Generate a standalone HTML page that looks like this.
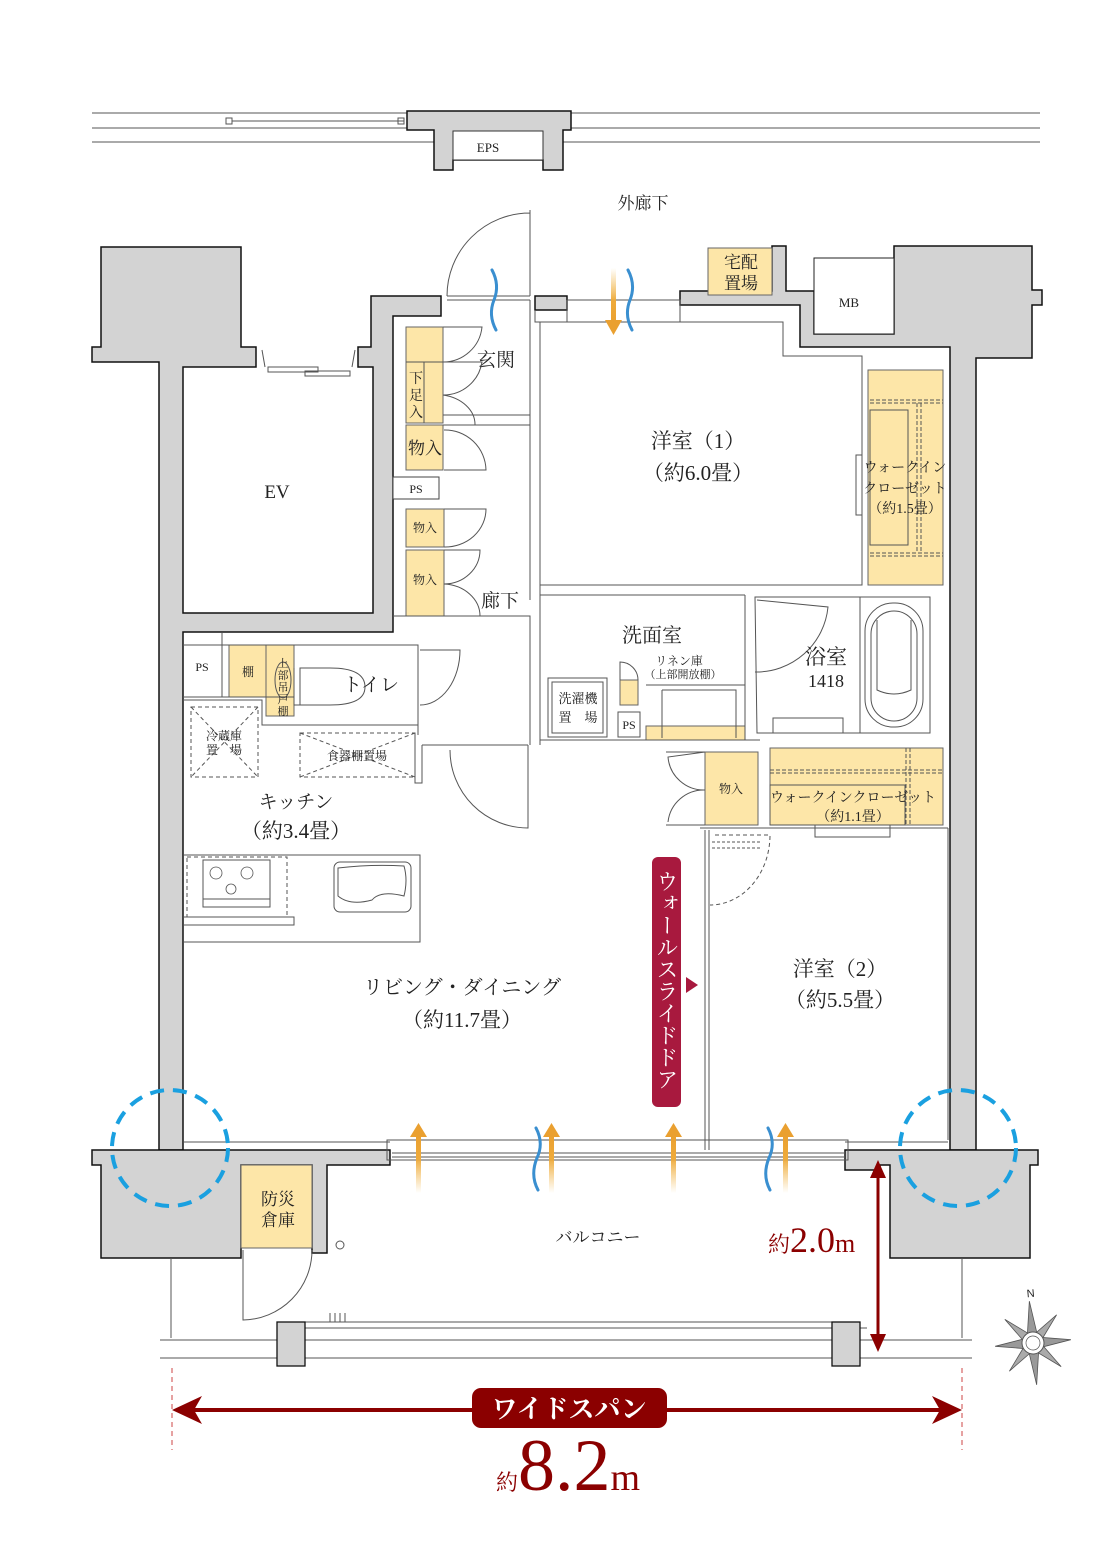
<!DOCTYPE html>
<html><head><meta charset="utf-8"><style>
html,body{margin:0;padding:0;background:#fff;}
svg{display:block;}
text{font-family:"Liberation Serif","Noto Serif CJK SC","Noto Sans CJK JP",serif;fill:#222;}
</style></head><body>
<svg width="1120" height="1560" viewBox="0 0 1120 1560" xmlns="http://www.w3.org/2000/svg">
<defs>
<linearGradient id="ga" x1="0" y1="1" x2="0" y2="0"><stop offset="0" stop-color="#f2b84a" stop-opacity="0"/><stop offset="0.6" stop-color="#eeaa3a"/><stop offset="1" stop-color="#eaa030"/></linearGradient>
<linearGradient id="gd" x1="0" y1="0" x2="0" y2="1"><stop offset="0" stop-color="#f2b84a" stop-opacity="0"/><stop offset="0.6" stop-color="#eeaa3a"/><stop offset="1" stop-color="#eaa030"/></linearGradient>
</defs>
<g stroke="#555" stroke-width="1" fill="none">
<line x1="92" y1="113" x2="407" y2="113"/><line x1="571" y1="113" x2="1040" y2="113"/>
<line x1="92" y1="128" x2="407" y2="128"/><line x1="571" y1="128" x2="1040" y2="128"/>
<line x1="92" y1="142" x2="434" y2="142"/><line x1="563" y1="142" x2="1040" y2="142"/>
<line x1="232" y1="121" x2="404" y2="121"/>
<rect x="226" y="118" width="6" height="6"/><rect x="398" y="118" width="6" height="6"/>
</g>
<path d="M407 111 H571 V130 H563 V170 H543 V160 H453 V170 H434 V130 H407 Z" fill="#d3d3d3" stroke="#111" stroke-width="1.5"/>
<rect x="453" y="131" width="90" height="29" fill="#fff" stroke="#333"/>
<text x="488" y="152" font-size="13" text-anchor="middle">EPS</text>
<text x="643" y="209" font-size="17" text-anchor="middle">外廊下</text>

<g fill="#d3d3d3" stroke="#111" stroke-width="1.5">
<path d="M101 247 H241 V347 H256 V367 H183 V613 H373 V367 H358 V347 H371 V296 H441 V316 H393 V632 H183 V1150 H159 V362 H92 V347 H101 Z"/>
<path d="M535 296 H567 V310 H535 Z"/>
<path d="M680 291 H772 V246 H786 V291 H800 V291 H814 V334 H894 V246 H1032 V290 H1042 V305 H1032 V358 H976 V1150 H950 V347 H800 V305 H680 Z"/>
<path d="M92 1150 H390 V1165 H327 V1253 H312 V1165 H241 V1258 H101 V1165 H92 Z"/>
<path d="M845 1150 H1038 V1165 H1030 V1258 H890 V1165 H880 V1170 H845 Z"/>
</g>
<rect x="814" y="258" width="80" height="76" fill="#fff" stroke="#222"/>
<text x="849" y="307" font-size="13" text-anchor="middle">MB</text>
<text x="277" y="498" font-size="19" text-anchor="middle">EV</text>
<g stroke="#555" fill="none" stroke-width="1"><path d="M265 367 L262 350 M352 367 L355 350"/><rect x="268" y="367" width="50" height="5"/><rect x="305" y="371" width="45" height="5"/></g>

<g fill="#fde6a8" stroke="#666" stroke-width="1">
<rect x="708" y="248" width="64" height="47"/>
<rect x="406" y="327" width="37" height="96"/>
<rect x="406" y="425" width="37" height="45"/>
<rect x="406" y="509" width="38" height="38"/>
<rect x="406" y="550" width="38" height="66"/>
<rect x="868" y="370" width="75" height="215"/>
<rect x="229" y="645" width="37" height="52"/>
<rect x="266" y="645" width="28" height="71"/>
<rect x="620" y="680" width="18" height="25"/>
<rect x="646" y="726" width="99" height="14"/>
<rect x="705" y="752" width="53" height="73"/>
<rect x="770" y="748" width="173" height="77"/>
<rect x="241" y="1165" width="71" height="83"/>
</g>
<g stroke="#555" fill="none" stroke-width="1">
<line x1="406" y1="362" x2="443" y2="362"/><line x1="424" y1="362" x2="424" y2="423"/>
<rect x="870" y="410" width="38" height="135"/>
<path d="M870 400 H943 M870 403 H943 M870 553 H943 M870 556 H943 M917 403 V553 M921 403 V553" stroke-dasharray="4 2"/>
<rect x="770" y="785" width="135" height="40"/>
<path d="M770 770 H943 M770 773 H943 M906 748 V825 M910 748 V825" stroke-dasharray="4 2"/>
</g>
<text x="741" y="268" font-size="17" text-anchor="middle">宅配</text>
<text x="741" y="289" font-size="17" text-anchor="middle">置場</text>
<text font-size="14"><tspan x="409" y="383">下</tspan><tspan x="409" y="400">足</tspan><tspan x="409" y="417">入</tspan></text>
<text x="425" y="454" font-size="17" text-anchor="middle">物入</text>
<rect x="393" y="477" width="46" height="22" fill="#fff" stroke="#444"/>
<text x="416" y="493" font-size="12" text-anchor="middle">PS</text>
<text x="425" y="532" font-size="12" text-anchor="middle">物入</text>
<text x="425" y="584" font-size="12" text-anchor="middle">物入</text>
<text x="496" y="366" font-size="19" text-anchor="middle">玄関</text>
<text x="500" y="607" font-size="19" text-anchor="middle">廊下</text>

<g stroke="#555" fill="none" stroke-width="1">
<path d="M447 296 H530 M447 300 H530"/>
<path d="M530 210 V296 M447 296 A83 83 0 0 1 530 213"/>
<path d="M530 300 V600 M540 322 V600 M535 310 V322 H783 V356 H862 V585 H540"/>
<path d="M567 300 H680 V322 M567 300 V322"/>
<path d="M443 415 H530 M443 425 H530"/>
<path d="M443 327 H482 A39 39 0 0 1 443 362 M443 362 H482 A39 39 0 0 1 443 395 M443 395 A39 30 0 0 1 475 425 M444 430 A41 41 0 0 1 486 470 H444 M444 509 H486 A41 38 0 0 1 444 547 M444 550 H480 A36 34 0 0 1 444 584 M444 584 A38 32 0 0 1 480 616 H444"/>
<path d="M393 616 H530 V745 M540 595 H745 M540 600 V745 M540 740 H760 M745 595 V740 M755 597 H930 V733 H757 Z"/>
<path d="M862 455 H856 V515 H862" />
<path d="M548 678 h59 v59 h-59 z M552 682 h51 v51 h-51 z"/>
<rect x="618" y="712" width="22" height="25" fill="#fff"/>
<path d="M620 680 V662 A18 18 0 0 1 638 680"/>
<path d="M646 685 H745 M662 690 H736 V738 M662 690 V738"/>
<path d="M757 600 L828 607 A72 72 0 0 1 755 672"/>
<path d="M860 597 V733"/>
<rect x="865" y="603" width="58" height="124" rx="28"/>
<rect x="871" y="611" width="46" height="110" rx="23"/>
<path d="M877 620 V690 Q894 698 911 690 V620"/>
<rect x="773" y="718" width="70" height="15"/>
<path d="M183 697 H294 M222 633 V697 M294 645 H418 V735 M183 645 H418" />
<path d="M300 668 H330 Q365 668 365 687 Q365 705 330 705 H300 Z M294 668 V705 H300"/>
<ellipse cx="283" cy="680" rx="8" ry="18"/>
<path d="M420 650 H460 A40 55 0 0 1 420 705"/>
<path d="M183 700 H262 V725 H418 M415 733 V783 H422 V745"/>
<path d="M422 745 H528 M528 745 V828 A78 78 0 0 1 450 750"/>
<g stroke-dasharray="4 3"><rect x="191" y="707" width="67" height="70"/><path d="M191 707 L258 777 M258 707 L191 777"/>
<rect x="300" y="733" width="115" height="44"/><path d="M300 733 L415 777 M415 733 L300 777"/></g>
<path d="M184 855 H420 V942 H184"/>
<rect x="187" y="857" width="100" height="60" stroke-dasharray="4 3"/>
<rect x="203" y="860" width="67" height="47"/><path d="M203 899 H270"/>
<path d="M184 917 H294 V925 H184"/>
<rect x="334" y="862" width="77" height="50" rx="6"/>
<path d="M338 868 Q372 864 404 866 Q408 880 404 896 Q380 890 372 900 Q350 906 338 896 Z"/>
<g stroke-width="0.8"><circle cx="216" cy="873" r="6"/><circle cx="247" cy="873" r="6"/><circle cx="231" cy="889" r="5"/></g>
<path d="M705 830 V1150 M709 830 V1150 M700 828 H948 M666 752 H705 M666 825 H705"/>
<path d="M705 752 L668 757 A36 36 0 0 0 705 790 A36 36 0 0 0 668 822"/>
<path d="M715 835 H770 A60 70 0 0 1 710 905" stroke-dasharray="4 3"/>
<path d="M712 842 H760 M712 848 H760" stroke-dasharray="3 2"/>
<path d="M815 825 V837 H890 V825"/>
<path d="M948 828 V1140 M184 1142 H390 M845 1142 H948"/>
<path d="M387 1140 H848 V1160 H387 Z M392 1153 H845 M392 1157 H845"/>
<path d="M243 1250 V1320 A70 70 0 0 0 312 1250"/>
<path d="M305 1328 H867 M305 1322 H832 M160 1340 H972 M160 1358 H972"/>
<path d="M171 1258 V1338 M962 1258 V1338"/>
<circle cx="340" cy="1245" r="4"/>
<path d="M330 1313 V1322 M335 1313 V1322 M340 1313 V1322 M345 1313 V1322"/>
</g>
<g fill="#d3d3d3" stroke="#111" stroke-width="1.3"><rect x="277" y="1322" width="28" height="44"/><rect x="832" y="1322" width="28" height="44"/></g>

<text x="202" y="671" font-size="12" text-anchor="middle">PS</text>
<text x="248" y="676" font-size="12" text-anchor="middle">棚</text>
<text font-size="11" text-anchor="middle"><tspan x="283" y="667">上</tspan><tspan x="283" y="679">部</tspan><tspan x="283" y="691">吊</tspan><tspan x="283" y="703">戸</tspan><tspan x="283" y="715">棚</tspan></text>
<text x="371" y="691" font-size="19" text-anchor="middle">トイレ</text>
<text x="224" y="740" font-size="12" text-anchor="middle">冷蔵庫</text>
<text x="224" y="754" font-size="12" text-anchor="middle">置　場</text>
<text x="357" y="760" font-size="12" text-anchor="middle">食器棚置場</text>
<text x="296" y="808" font-size="19" text-anchor="middle">キッチン</text>
<text x="296" y="838" font-size="21" text-anchor="middle">（約3.4畳）</text>
<text x="462" y="994" font-size="20" text-anchor="middle">リビング・ダイニング</text>
<text x="462" y="1027" font-size="21" text-anchor="middle">（約11.7畳）</text>
<text x="698" y="448" font-size="21" text-anchor="middle">洋室（1）</text>
<text x="698" y="480" font-size="21" text-anchor="middle">（約6.0畳）</text>
<text x="905" y="472" font-size="14" text-anchor="middle">ウォークイン</text>
<text x="905" y="493" font-size="14" text-anchor="middle">クローゼット</text>
<text x="905" y="513" font-size="14" text-anchor="middle">（約1.5畳）</text>
<text x="652" y="642" font-size="20" text-anchor="middle">洗面室</text>
<text x="679" y="665" font-size="12" text-anchor="middle">リネン庫</text>
<text x="683" y="678" font-size="11" text-anchor="middle">（上部開放棚）</text>
<text x="578" y="703" font-size="13" text-anchor="middle">洗濯機</text>
<text x="578" y="722" font-size="13" text-anchor="middle">置　場</text>
<text x="629" y="729" font-size="12" text-anchor="middle">PS</text>
<text x="826" y="664" font-size="21" text-anchor="middle">浴室</text>
<text x="826" y="687" font-size="18" text-anchor="middle">1418</text>
<text x="731" y="793" font-size="12" text-anchor="middle">物入</text>
<text x="853" y="802" font-size="14" text-anchor="middle">ウォークインクローゼット</text>
<text x="853" y="821" font-size="14" text-anchor="middle">（約1.1畳）</text>
<text x="840" y="976" font-size="21" text-anchor="middle">洋室（2）</text>
<text x="840" y="1007" font-size="21" text-anchor="middle">（約5.5畳）</text>
<text x="278" y="1205" font-size="17" text-anchor="middle">防災</text>
<text x="278" y="1226" font-size="17" text-anchor="middle">倉庫</text>
<text x="598" y="1243" font-size="17" text-anchor="middle">バルコニー</text>

<rect x="652" y="857" width="29" height="250" rx="6" fill="#a8193e"/>
<text x="666.5" y="870" font-size="22" style="fill:#fff;writing-mode:vertical-rl;">ウォールスライドドア</text>
<path d="M686 977 L698 985 L686 993 Z" fill="#a8193e"/>

<g>
<rect x="416" y="1135" width="5" height="58" fill="url(#ga)"/><path d="M410 1137 L418.5 1123 L427 1137 Z" fill="#eaa030"/>
<rect x="549" y="1135" width="5" height="58" fill="url(#ga)"/><path d="M543 1137 L551.5 1123 L560 1137 Z" fill="#eaa030"/>
<rect x="671" y="1135" width="5" height="58" fill="url(#ga)"/><path d="M665 1137 L673.5 1123 L682 1137 Z" fill="#eaa030"/>
<rect x="783" y="1135" width="5" height="58" fill="url(#ga)"/><path d="M777 1137 L785.5 1123 L794 1137 Z" fill="#eaa030"/>
<rect x="611" y="268" width="5" height="55" fill="url(#gd)"/><path d="M605 320 L613.5 335 L622 320 Z" fill="#eaa030"/>
</g>
<g stroke="#3a8fd0" stroke-width="3" fill="none" stroke-linecap="round">
<path d="M492 270 Q500 285 494 300 Q488 315 496 330"/>
<path d="M628 270 Q636 285 630 300 Q624 315 632 330"/>
<path d="M536 1128 Q544 1143 537 1158 Q530 1175 538 1190"/>
<path d="M768 1128 Q776 1143 769 1158 Q762 1175 770 1190"/>
</g>
<g stroke="#1aa0e0" stroke-width="4" fill="none" stroke-dasharray="14 9">
<circle cx="170" cy="1148" r="58"/><circle cx="958" cy="1148" r="58"/>
</g>

<g stroke="#8b0000" fill="#8b0000">
<line x1="878" y1="1172" x2="878" y2="1340" stroke-width="3"/>
<path d="M870 1178 L878 1160 L886 1178 Z M870 1334 L878 1352 L886 1334 Z" stroke="none"/>
<line x1="190" y1="1410" x2="945" y2="1410" stroke-width="4"/>
<path d="M172 1410 L202 1396 L194 1410 L202 1424 Z M962 1410 L932 1396 L940 1410 L932 1424 Z" stroke="none"/>
<line x1="172" y1="1368" x2="172" y2="1450" stroke-width="1" stroke-dasharray="5 4" stroke="#c44"/>
<line x1="962" y1="1368" x2="962" y2="1450" stroke-width="1" stroke-dasharray="5 4" stroke="#c44"/>
<rect x="472" y="1388" width="195" height="40" rx="9" stroke="none"/>
</g>
<text x="569" y="1418" font-size="26" font-weight="bold" text-anchor="middle" style="fill:#fff">ワイドスパン</text>
<text x="768" y="1252" font-size="22" style="fill:#8b0000">約<tspan font-size="36">2.0</tspan><tspan font-size="26">m</tspan></text>
<text x="496" y="1490" font-size="22" style="fill:#8b0000">約<tspan font-size="74">8.2</tspan><tspan font-size="38">m</tspan></text>

<g transform="translate(1033,1343) rotate(-5)">
<path d="M0 -42 L5 -8 L0 0 L-5 -8 Z M0 42 L5 8 L0 0 L-5 8 Z M-38 0 L-8 -5 L0 0 L-8 5 Z M38 0 L8 -5 L0 0 L8 5 Z" fill="#999" stroke="#555" stroke-width="0.8"/>
<path d="M-26 -26 L-4 -10 L0 0 L-10 -4 Z M26 -26 L10 -4 L0 0 L4 -10 Z M-26 26 L-10 4 L0 0 L-4 10 Z M26 26 L4 10 L0 0 L10 4 Z" fill="#aaa" stroke="#555" stroke-width="0.8"/>
<circle r="11" fill="#fff" stroke="#555"/><circle r="7" fill="none" stroke="#555" stroke-width="0.7"/>
<text x="2" y="-46" font-size="11" text-anchor="middle" style="font-family:'Liberation Sans',sans-serif">N</text>
</g>
</svg>
</body></html>
